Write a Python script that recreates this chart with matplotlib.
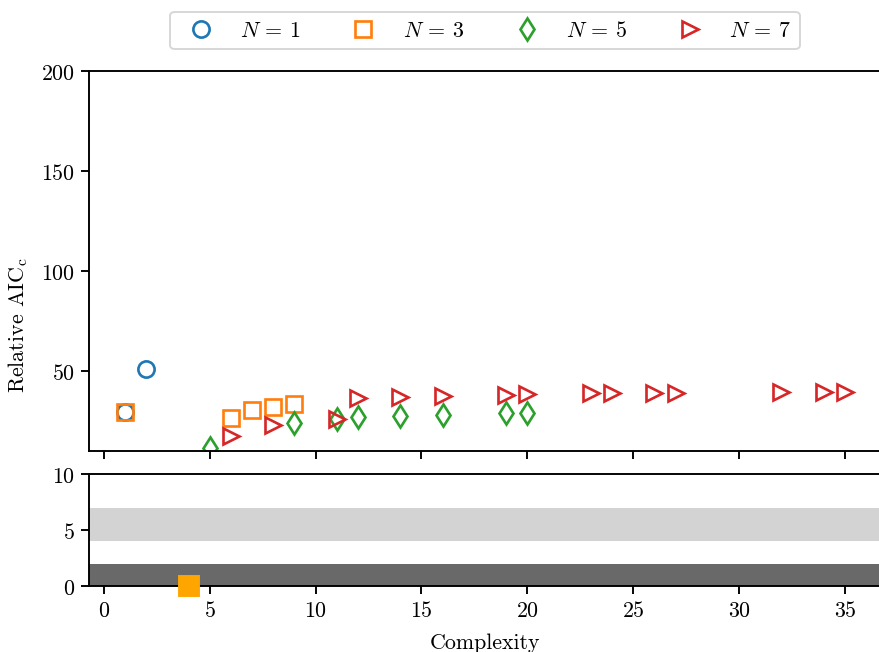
import matplotlib
matplotlib.use("Agg")
import matplotlib.pyplot as plt

# --- data ------------------------------------------------------------------
n1_x = [1, 2]
n1_y = [29.5, 51.0]
n3_x = [1, 6, 7, 8, 9]
n3_y = [29.5, 26.5, 30.5, 32.0, 33.5]
n5_x = [5, 9, 11, 12, 14, 16, 19, 20]
n5_y = [11.5, 24.0, 26.0, 27.0, 27.7, 28.0, 28.8, 28.8]
n7_x = [6, 8, 11, 12, 14, 16, 19, 20, 23, 24, 26, 27, 32, 34, 35]
n7_y = [17.7, 23.0, 26.0, 36.5, 37.0, 37.7, 38.2, 38.5, 38.8, 38.8,
        39.0, 39.0, 39.3, 39.3, 39.3]

best_x = [4]
best_y = [0]
band_light = (4, 7)
band_dark = (0, 2)

x_ticks = [0, 5, 10, 15, 20, 25, 30, 35]
top_yticks = [50, 100, 150, 200]
bot_yticks = [0, 5, 10]

plt.rcParams["font.family"] = "serif"
plt.rcParams["font.serif"] = ["cmr10"]
plt.rcParams["mathtext.fontset"] = "cm"
plt.rcParams["axes.formatter.use_mathtext"] = True
plt.rcParams["font.size"] = 11.5
plt.rcParams["axes.linewidth"] = 1.0
plt.rcParams["xtick.major.width"] = 1.0
plt.rcParams["ytick.major.width"] = 1.0
plt.rcParams["xtick.major.size"] = 4
plt.rcParams["ytick.major.size"] = 4

W, H = 879, 653
fig = plt.figure(figsize=(6.4, 6.4 * H / W), dpi=W / 6.4)


def px_axes(left, top, right, bottom):
    return fig.add_axes([left / W, 1 - bottom / H, (right - left) / W, (bottom - top) / H])


ax = px_axes(89, 72, 881, 452)
axb = px_axes(89, 475, 881, 587)

style = dict(linestyle="none", markersize=8.5, markeredgewidth=1.4, markerfacecolor="none")
ax.plot(n1_x, n1_y, marker="o", color="tab:blue", label=r"$N$ = 1", **style)
ax.plot(n3_x, n3_y, marker="s", color="tab:orange", label=r"$N$ = 3", **style)
ax.plot(n5_x, n5_y, marker="d", color="tab:green", label=r"$N$ = 5", **style)
ax.plot(n7_x, n7_y, marker=">", color="tab:red", label=r"$N$ = 7", **style)

ax.set_xlim(-0.7, 36.7)
ax.set_ylim(10, 200)
ax.set_yticks(top_yticks)
ax.set_xticks(x_ticks)
ax.tick_params(axis="x", labelbottom=False)
ax.spines["right"].set_visible(False)

ax.legend(loc="upper center", bbox_to_anchor=(0.5, 1.185), ncol=4,
          columnspacing=1.85)

# lower panel: significance bands and the best model
axb.axhspan(*band_light, color="lightgray", lw=0)
axb.axhspan(*band_dark, color="dimgray", lw=0)
axb.plot(best_x, best_y, marker="s", color="orange", markersize=10,
         linestyle="none", clip_on=False, zorder=5)
axb.set_xlim(-0.7, 36.7)
axb.set_ylim(0, 10)
axb.set_yticks(bot_yticks)
axb.set_xticks(x_ticks)
axb.set_xlabel("Complexity", labelpad=6.5)

fig.text(18 / W, 1 - 325 / H, r"Relative AIC$_\mathrm{c}$", rotation=90,
         ha="center", va="center")

fig.savefig("out.png")
